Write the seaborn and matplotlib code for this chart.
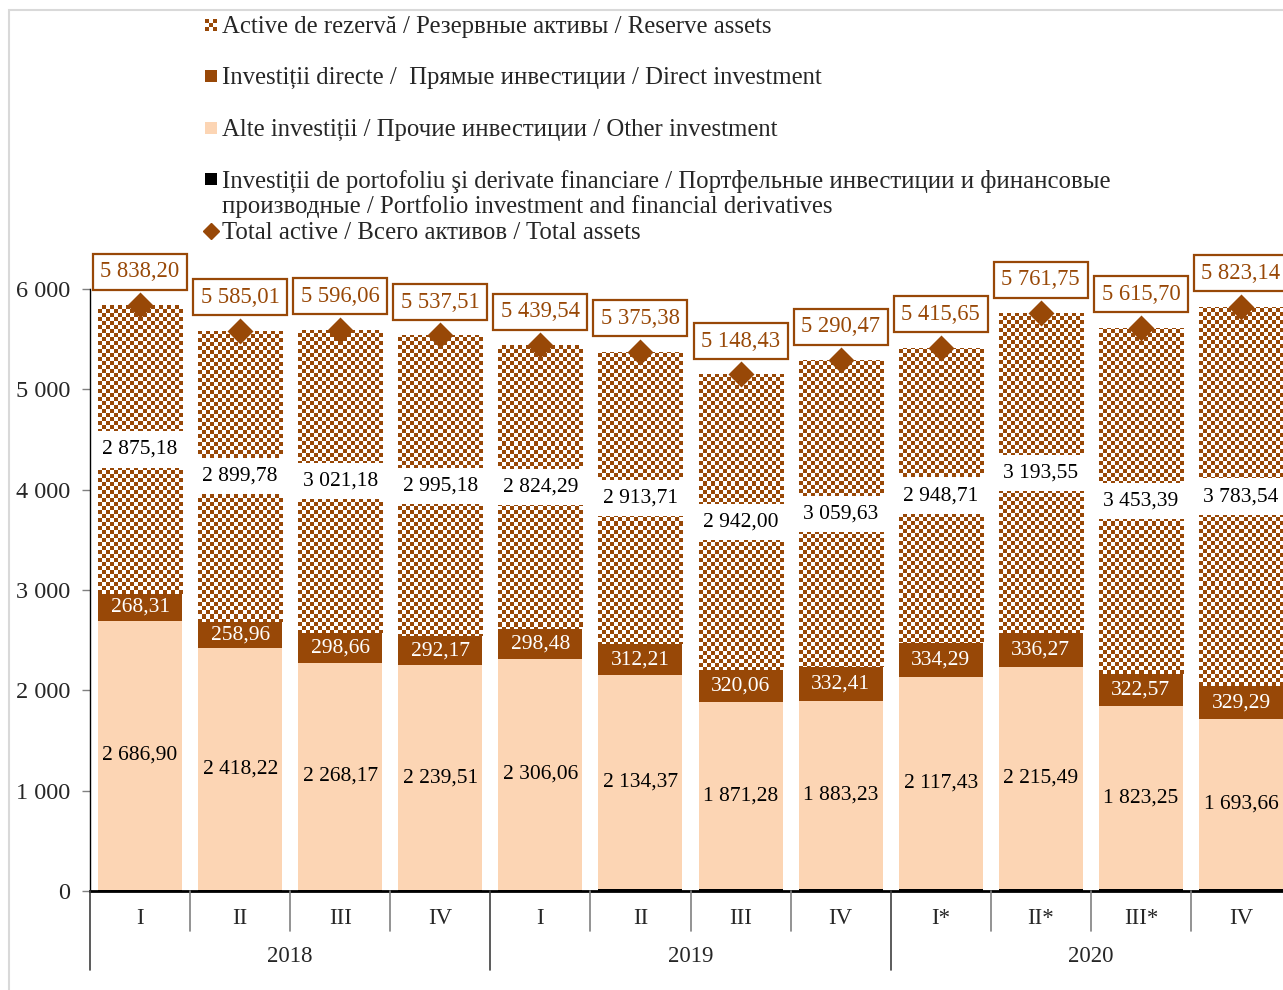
import numpy as np
import pandas as pd
import matplotlib
matplotlib.use("Agg")
import matplotlib.pyplot as plt
import seaborn as sns
from matplotlib.patches import Rectangle
from matplotlib.colors import ListedColormap

# ---------------- data ----------------
quarters = ["I", "II", "III", "IV", "I", "II", "III", "IV", "I*", "II*", "III*", "IV"]
years = ["2018", "2019", "2020"]
cat_ids = ["2018 I", "2018 II", "2018 III", "2018 IV",
           "2019 I", "2019 II", "2019 III", "2019 IV",
           "2020 I", "2020 II", "2020 III", "2020 IV"]
portfolio = [7.81, 8.05, 8.05, 10.65, 10.71, 15.09, 15.09, 15.20, 15.22, 16.44, 16.49, 16.65]
other_inv = [2686.90, 2418.22, 2268.17, 2239.51, 2306.06, 2134.37, 1871.28, 1883.23,
             2117.43, 2215.49, 1823.25, 1693.66]
direct_inv = [268.31, 258.96, 298.66, 292.17, 298.48, 312.21, 320.06, 332.41,
              334.29, 336.27, 322.57, 329.29]
reserve = [2875.18, 2899.78, 3021.18, 2995.18, 2824.29, 2913.71, 2942.00, 3059.63,
           2948.71, 3193.55, 3453.39, 3783.54]
total = [5838.20, 5585.01, 5596.06, 5537.51, 5439.54, 5375.38, 5148.43, 5290.47,
         5415.65, 5761.75, 5615.70, 5823.14]
yticks = [0, 1000, 2000, 3000, 4000, 5000, 6000]

leg_labels = [
    "Active de rezervă / Резервные активы / Reserve assets",
    "Investiții directe /  Прямые инвестиции / Direct investment",
    "Alte investiții / Прочие инвестиции / Other investment",
    "Investiții de portofoliu şi derivate financiare / Портфельные инвестиции и финансовые\n"
    "производные / Portfolio investment and financial derivatives",
    "Total active / Всего активов / Total assets",
]

# ---------------- style ----------------
BROWN = "#984807"
PEACH = "#fcd5b4"
FONT = ["Liberation Serif", "DejaVu Serif"]
sns.set_theme(style="white")
plt.rcParams["font.family"] = FONT
FS = 15.5
LFS = 17.8

df = pd.DataFrame({
    "cat": cat_ids,
    "portfolio": portfolio,
    "other": other_inv,
    "direct": direct_inv,
    "reserve": reserve,
    "total": total,
})
df["c_port"] = df["portfolio"]
df["c_other"] = df["c_port"] + df["other"]
df["c_direct"] = df["c_other"] + df["direct"]
df["c_res"] = df["c_direct"] + df["reserve"]

W, H = 1283, 990
fig = plt.figure(figsize=(W / 100, H / 100), dpi=100)
ax = fig.add_axes([90 / W, 99 / H, (1283 - 90) / W, (891 - 289) / H])

n = len(cat_ids)
BW = 0.84
sns.barplot(data=df, x="cat", y="c_res", order=cat_ids, color="white", saturation=1,
            width=BW, linewidth=0, edgecolor="none", ax=ax, zorder=1)
res_patches = list(ax.patches)
sns.barplot(data=df, x="cat", y="c_direct", order=cat_ids, color=BROWN, saturation=1,
            width=BW, linewidth=0, edgecolor="none", ax=ax, zorder=3)
sns.barplot(data=df, x="cat", y="c_other", order=cat_ids, color=PEACH, saturation=1,
            width=BW, linewidth=0, edgecolor="none", ax=ax, zorder=4)
sns.barplot(data=df, x="cat", y="c_port", order=cat_ids, color="black", saturation=1,
            width=BW, linewidth=0, edgecolor="none", ax=ax, zorder=5)

ax.set_xlim(-0.5, n - 1 + 0.42)
ax.set_ylim(0, 6000)

# checkerboard fill for reserve assets (clipped to the reserve segment of each bar)
cell = 4
nx, ny = int(1193 / cell), int(602 / cell)
checker = (np.add.outer(np.arange(ny), np.arange(nx)) % 2).astype(float)
cmap = ListedColormap(["white", BROWN])
for i, p in enumerate(res_patches):
    im = ax.imshow(checker, cmap=cmap, extent=[0, 1, 0, 1], transform=ax.transAxes,
                   aspect="auto", interpolation="nearest", zorder=2)
    clip = Rectangle((p.get_x(), df["c_direct"][i]), p.get_width(), df["reserve"][i],
                     transform=ax.transData)
    im.set_clip_path(clip)
ax.set_xlim(-0.5, n - 1 + 0.42)
ax.set_ylim(0, 6000)

# total diamonds
sns.scatterplot(x=np.arange(n), y=df["total"], marker="D", s=175, color=BROWN,
                edgecolor=BROWN, linewidth=0, ax=ax, zorder=8, clip_on=False, legend=False)


def fmt(v):
    s = f"{v:,.2f}"
    return s.replace(",", " ").replace(".", ",")


for i in range(n):
    ax.text(i, df["c_port"][i] + df["other"][i] / 2, fmt(other_inv[i]), ha="center",
            va="center", fontsize=FS, color="black", zorder=9)
    ax.text(i, df["c_other"][i] + direct_inv[i] / 2, fmt(direct_inv[i]), ha="center",
            va="center", fontsize=FS, color="white", zorder=9)
    ax.text(i, df["c_direct"][i] + reserve[i] / 2, fmt(reserve[i]), ha="center",
            va="center", fontsize=FS, color="black", zorder=9,
            bbox=dict(boxstyle="square,pad=0.4", fc="white", ec="none"))
    ax.annotate(fmt(total[i]), (i, total[i]), xytext=(0, 24), textcoords="offset points",
                ha="center", va="center", fontsize=16.3, color=BROWN, zorder=10,
                annotation_clip=False,
                bbox=dict(boxstyle="square,pad=0.33", fc="white", ec=BROWN, lw=1.6))

# axes styling
for s in ["top", "right"]:
    ax.spines[s].set_visible(False)
ax.spines["left"].set_color("black")
ax.spines["left"].set_linewidth(1.0)
ax.spines["bottom"].set_color("black")
ax.spines["bottom"].set_linewidth(2.0)
ax.set_xlabel("")
ax.set_ylabel("")
ax.set_xticks([])
ax.set_yticks(yticks)
ax.set_yticklabels([f"{v:,}".replace(",", " ") for v in yticks], fontsize=17.5)
ax.tick_params(axis="y", direction="out", length=6, width=1, color="#808080", pad=8,
               left=True)

# multi-level x axis
trans = ax.get_xaxis_transform()
px = 1 / 602.0
for i, q in enumerate(quarters):
    ax.text(i, -27 * px, q, transform=trans, ha="center", va="center", fontsize=16.5,
            clip_on=False)
for j, y in enumerate(years):
    ax.text(4 * j + 1.5, -66 * px, y, transform=trans, ha="center", va="center",
            fontsize=16.5, clip_on=False)
for k in range(n):
    xpos = k - 0.5
    if k % 4 == 0:
        ax.plot([xpos, xpos], [0, -79 * px], transform=trans, color="#404040", lw=1.2,
                clip_on=False, zorder=6)
    else:
        ax.plot([xpos, xpos], [0, -40 * px], transform=trans, color="#808080", lw=1.2,
                clip_on=False, zorder=6)

# legend (manual layout, as in the source figure)
leg_y = [25, 76, 128, 179, 231]
tx = 222 / W
for lab, yy in zip(leg_labels, leg_y):
    for li, line in enumerate(lab.split("\n")):
        fig.text(tx, 1 - (yy + 2 + 26 * li) / H, line, ha="left", va="center",
                 fontsize=LFS)

sq = 12
iax = fig.add_axes([205 / W, 1 - (leg_y[0] + sq / 2) / H, sq / W, sq / H])
iax.imshow(np.add.outer(np.arange(3), np.arange(3)) % 2 == 0, cmap=cmap,
           interpolation="nearest", aspect="auto")
iax.axis("off")
for yy, col in zip(leg_y[1:4], [BROWN, PEACH, "black"]):
    fig.add_artist(Rectangle((205 / W, 1 - (yy + sq / 2) / H), sq / W, sq / H,
                             transform=fig.transFigure, fc=col, ec="none"))
fig.add_artist(plt.Line2D([211 / W], [1 - leg_y[4] / H], marker="D", markersize=8,
                          color=BROWN, transform=fig.transFigure, linestyle="none"))

# light frame of the original figure
fig.add_artist(Rectangle((9 / W, -0.1), 1.2, 1.1 - 10 / H, transform=fig.transFigure,
                         fill=False, ec="#d9d9d9", lw=1.5))

fig.savefig("out.png", dpi=100)
